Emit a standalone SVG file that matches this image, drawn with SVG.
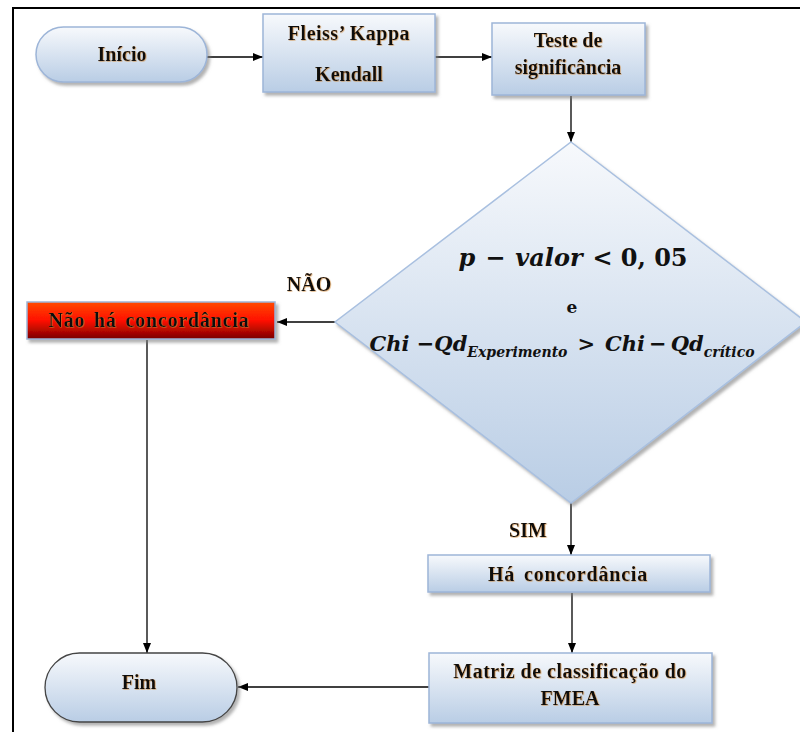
<svg xmlns="http://www.w3.org/2000/svg" width="800" height="732" viewBox="0 0 800 732">
<defs>
<linearGradient id="gBlue" x1="0" y1="0" x2="0" y2="1">
<stop offset="0" stop-color="#f7f9fc"/>
<stop offset="1" stop-color="#b9cde5"/>
</linearGradient>
<linearGradient id="gRed" x1="0" y1="0" x2="0" y2="1">
<stop offset="0" stop-color="#ff4a00"/>
<stop offset="0.5" stop-color="#ff1000"/>
<stop offset="1" stop-color="#780000"/>
</linearGradient>
<filter id="sh" x="-10%" y="-10%" width="125%" height="135%">
<feDropShadow dx="2.5" dy="3" stdDeviation="1.5" flood-color="#7f7f7f" flood-opacity="0.6"/>
</filter>
<filter id="tg" x="-5%" y="-20%" width="110%" height="140%">
<feDropShadow dx="0.6" dy="0.6" stdDeviation="0.5" flood-color="#d08a3a" flood-opacity="0.8"/>
</filter>
<marker id="ah" markerWidth="10" markerHeight="8" refX="10" refY="4" orient="auto" markerUnits="userSpaceOnUse">
<path d="M0,0 L10,4 L0,8 Z" fill="#000"/>
</marker>
</defs>
<style>
.box{fill:url(#gBlue);stroke:#9db5d8;stroke-width:1.5;filter:url(#sh)}
.t{font-family:"Liberation Serif","Times New Roman",serif;font-weight:bold;font-size:20px;fill:#111;text-anchor:middle;filter:url(#tg)}
.m{font-family:"DejaVu Serif","Liberation Serif",serif;font-weight:bold;fill:#111;text-anchor:middle}
.c{fill:none;stroke:#000;stroke-width:1.3}
</style>
<rect width="800" height="732" fill="#fff"/>
<path d="M13,732 L13,8 L800,8" fill="none" stroke="#000" stroke-width="2"/>

<g id="connectors">
<line class="c" x1="207" y1="57" x2="263" y2="57" marker-end="url(#ah)"/>
<line class="c" x1="435" y1="57" x2="492" y2="57" marker-end="url(#ah)"/>
<line class="c" x1="571" y1="96" x2="571" y2="142" marker-end="url(#ah)"/>
<line class="c" x1="335" y1="322" x2="277" y2="322" marker-end="url(#ah)"/>
<line class="c" x1="147" y1="340" x2="147" y2="653" marker-end="url(#ah)"/>
<line class="c" x1="571" y1="503" x2="571" y2="555" marker-end="url(#ah)"/>
<line class="c" x1="572" y1="593" x2="572" y2="653" marker-end="url(#ah)"/>
<line class="c" x1="429" y1="687" x2="238" y2="687" marker-end="url(#ah)"/>
<text class="t" x="309" y="291">NÃO</text>
<text class="t" x="528" y="537">SIM</text>
</g>

<g id="inicio">
<rect class="box" x="36" y="27" width="171" height="55" rx="27.5"/>
<text class="t" x="122" y="61">Início</text>
</g>

<g id="fleiss">
<rect class="box" x="263" y="14" width="172" height="78"/>
<text class="t" x="349" y="40" letter-spacing="0.5">Fleiss’ Kappa</text>
<text class="t" x="349" y="81">Kendall</text>
</g>

<g id="teste">
<rect class="box" x="492" y="23" width="153" height="72"/>
<text class="t" x="568" y="47">Teste de</text>
<text class="t" x="568" y="74">significância</text>
</g>

<g id="decisao">
<polygon points="571,142 806,322 571,503 335,322" fill="url(#gBlue)" stroke="#a9c0e0" stroke-width="1.5" filter="url(#sh)"/>
<text class="m" x="573" y="266" style="font-size:24px;font-style:italic"><tspan>p</tspan><tspan style="font-style:normal" dx="10">−</tspan><tspan dx="10">valor</tspan><tspan style="font-style:normal" dx="10">&lt;</tspan><tspan style="font-style:normal" dx="8">0, 05</tspan></text>
<text class="m" x="572" y="313" style="font-size:17px">e</text>
<text class="m" x="562" y="351" style="font-size:21px;font-style:italic"><tspan>Chi −Qd</tspan><tspan style="font-size:14px" dy="6">Experimento</tspan><tspan style="font-style:normal" dy="-6" dx="10">&gt;</tspan><tspan dx="10">Chi</tspan><tspan style="font-style:normal" dx="4">−</tspan><tspan dx="4">Qd</tspan><tspan style="font-size:14px" dy="6">crítico</tspan></text>
</g>

<g id="nao-ha">
<rect x="27" y="302" width="248" height="37" fill="url(#gRed)" stroke="#9db5d8" stroke-width="1.5" filter="url(#sh)"/>
<text class="t" x="149" y="327" letter-spacing="0.8" word-spacing="3">Não há concordância</text>
</g>

<g id="ha">
<rect class="box" x="428" y="555" width="282" height="37"/>
<text class="t" x="568" y="581" letter-spacing="0.8" word-spacing="3">Há concordância</text>
</g>

<g id="matriz">
<rect class="box" x="429" y="653" width="283" height="70"/>
<text class="t" x="570" y="678" letter-spacing="0.5">Matriz de classificação do</text>
<text class="t" x="570" y="705">FMEA</text>
</g>

<g id="fim">
<rect x="45" y="653" width="192" height="69" rx="34.5" fill="url(#gBlue)" stroke="#444" stroke-width="1.3" filter="url(#sh)"/>
<text class="t" x="139" y="689">Fim</text>
</g>
</svg>
